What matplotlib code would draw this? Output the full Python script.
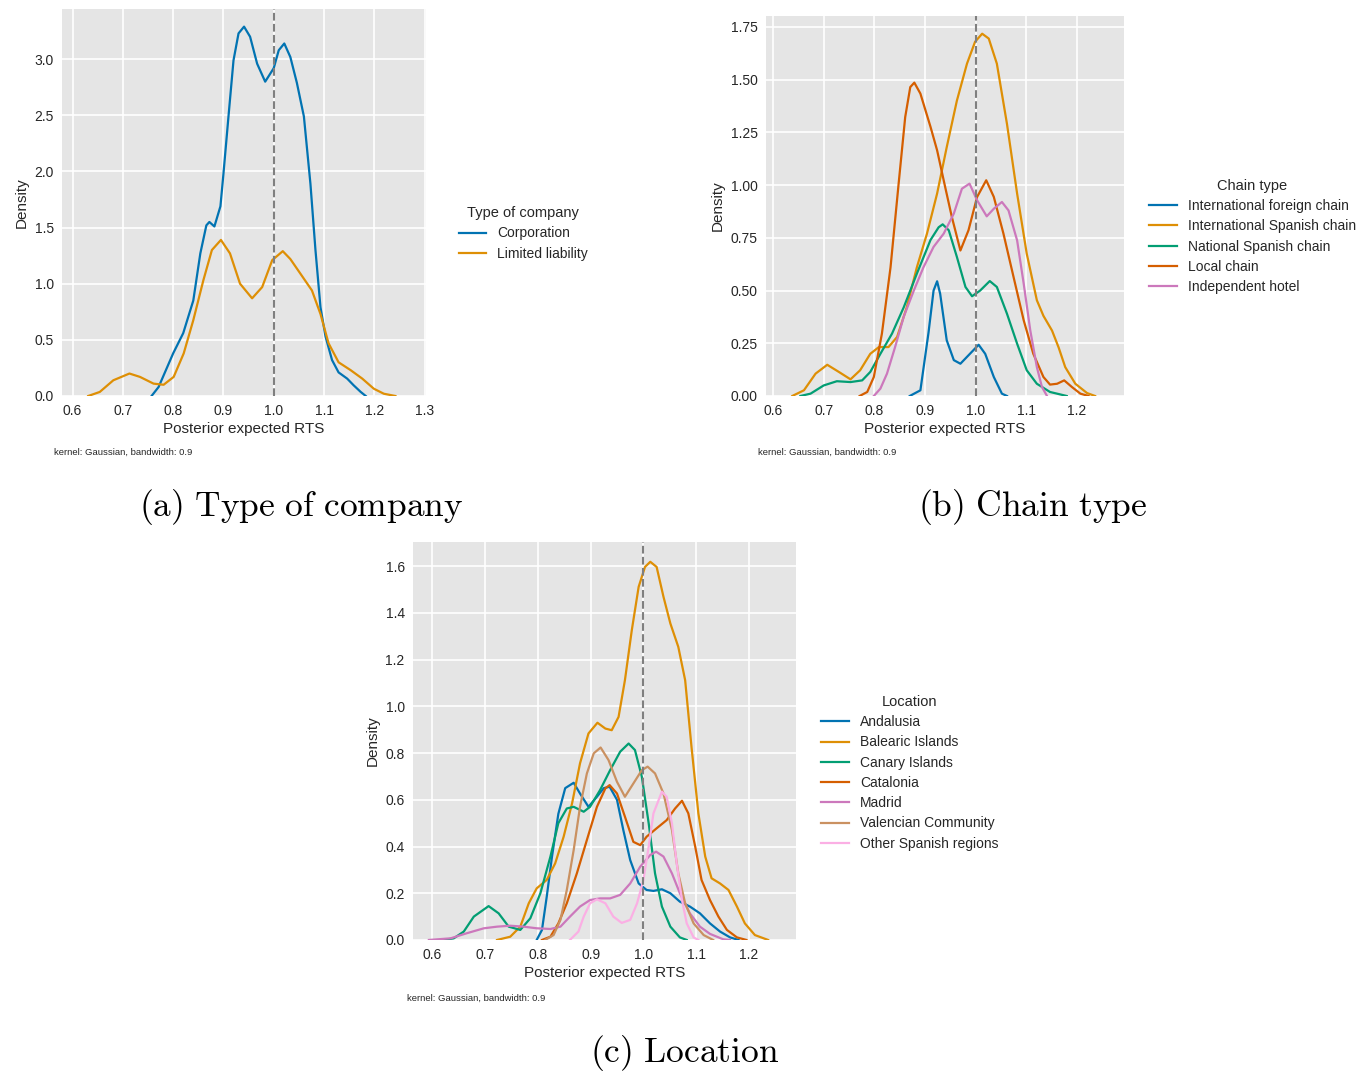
import matplotlib
matplotlib.use("Agg")
import matplotlib.pyplot as plt

# ---- data (x = posterior expected RTS, y = density) ----

# (a) Type of company
corp_x = [0.757, 0.771, 0.800, 0.820, 0.840, 0.854, 0.866, 0.872, 0.882, 0.894, 0.900, 0.910,
          0.920, 0.930, 0.941, 0.953, 0.967, 0.983, 1.000, 1.010, 1.021, 1.033, 1.046, 1.060,
          1.073, 1.083, 1.093, 1.103, 1.116, 1.129, 1.146, 1.159, 1.173, 1.183]
corp_y = [0.00, 0.08, 0.38, 0.56, 0.85, 1.27, 1.52, 1.55, 1.51, 1.69, 1.98, 2.49,
          2.99, 3.23, 3.29, 3.20, 2.96, 2.80, 2.92, 3.08, 3.14, 3.02, 2.79, 2.49,
          1.89, 1.30, 0.79, 0.53, 0.32, 0.21, 0.155, 0.095, 0.036, 0.00]
ltd_x = [0.631, 0.654, 0.681, 0.713, 0.734, 0.761, 0.781, 0.801, 0.821, 0.840, 0.860, 0.877,
         0.895, 0.913, 0.933, 0.957, 0.977, 0.997, 1.018, 1.033, 1.053, 1.076, 1.093, 1.109,
         1.129, 1.153, 1.176, 1.199, 1.219, 1.242]
ltd_y = [0.00, 0.036, 0.14, 0.20, 0.17, 0.11, 0.10, 0.17, 0.38, 0.675, 1.03, 1.30,
         1.39, 1.27, 1.00, 0.87, 0.97, 1.21, 1.29, 1.22, 1.09, 0.94, 0.73, 0.47,
         0.30, 0.23, 0.155, 0.065, 0.02, 0.00]
company_names = ["Corporation", "Limited liability"]

# (b) Chain type
intl_foreign_x = [0.870, 0.891, 0.907, 0.917, 0.924, 0.930, 0.943, 0.957, 0.970, 0.986, 1.006,
                  1.019, 1.036, 1.052, 1.062]
intl_foreign_y = [0.00, 0.027, 0.30, 0.50, 0.544, 0.485, 0.264, 0.17, 0.153, 0.193, 0.243,
                  0.20, 0.09, 0.011, 0.00]
intl_spanish_x = [0.638, 0.661, 0.684, 0.707, 0.730, 0.753, 0.772, 0.792, 0.809, 0.828, 0.845,
                  0.864, 0.884, 0.904, 0.924, 0.943, 0.963, 0.983, 0.999, 1.013, 1.026, 1.042,
                  1.062, 1.082, 1.101, 1.121, 1.134, 1.151, 1.164, 1.177, 1.197, 1.220, 1.236]
intl_spanish_y = [0.00, 0.027, 0.106, 0.148, 0.114, 0.079, 0.122, 0.20, 0.232, 0.232, 0.28,
                  0.42, 0.61, 0.77, 0.96, 1.18, 1.40, 1.576, 1.68, 1.718, 1.695, 1.576,
                  1.29, 0.96, 0.675, 0.454, 0.38, 0.31, 0.23, 0.137, 0.058, 0.014, 0.00]
national_x = [0.654, 0.674, 0.700, 0.726, 0.753, 0.776, 0.792, 0.812, 0.835, 0.858, 0.884,
              0.911, 0.927, 0.935, 0.947, 0.963, 0.980, 0.993, 1.009, 1.028, 1.042, 1.062,
              1.082, 1.101, 1.121, 1.147, 1.180]
national_y = [0.00, 0.011, 0.05, 0.07, 0.066, 0.074, 0.114, 0.20, 0.296, 0.42, 0.58,
              0.74, 0.80, 0.814, 0.786, 0.66, 0.517, 0.473, 0.50, 0.545, 0.517, 0.39,
              0.248, 0.122, 0.058, 0.019, 0.00]
local_x = [0.771, 0.786, 0.799, 0.815, 0.832, 0.848, 0.861, 0.871, 0.879, 0.891, 0.911,
           0.924, 0.940, 0.953, 0.970, 0.986, 1.003, 1.021, 1.036, 1.055, 1.075, 1.095,
           1.114, 1.134, 1.147, 1.161, 1.175, 1.190, 1.207, 1.223]
local_y = [0.00, 0.019, 0.09, 0.296, 0.61, 1.007, 1.323, 1.465, 1.486, 1.434, 1.276,
           1.165, 0.99, 0.85, 0.69, 0.786, 0.944, 1.023, 0.944, 0.77, 0.564, 0.359,
           0.20, 0.09, 0.054, 0.058, 0.074, 0.043, 0.011, 0.00]
indep_x = [0.799, 0.812, 0.825, 0.841, 0.858, 0.878, 0.897, 0.917, 0.937, 0.957, 0.973,
           0.988, 1.003, 1.022, 1.036, 1.052, 1.065, 1.082, 1.095, 1.108, 1.121, 1.131, 1.141]
indep_y = [0.00, 0.035, 0.106, 0.232, 0.375, 0.50, 0.61, 0.707, 0.77, 0.865, 0.983,
           1.007, 0.928, 0.852, 0.888, 0.92, 0.88, 0.738, 0.533, 0.311, 0.137, 0.043, 0.00]
chain_names = ["International foreign chain", "International Spanish chain",
               "National Spanish chain", "Local chain", "Independent hotel"]

# (c) Location
andalusia_x = [0.798, 0.808, 0.817, 0.827, 0.839, 0.852, 0.868, 0.880, 0.896, 0.912, 0.925,
               0.936, 0.950, 0.962, 0.975, 0.991, 1.006, 1.019, 1.035, 1.051, 1.069, 1.088,
               1.107, 1.126, 1.145, 1.164, 1.180]
andalusia_y = [0.00, 0.043, 0.185, 0.357, 0.54, 0.65, 0.673, 0.627, 0.57, 0.613, 0.65,
               0.656, 0.60, 0.47, 0.342, 0.242, 0.214, 0.21, 0.217, 0.20, 0.164, 0.143,
               0.114, 0.071, 0.036, 0.011, 0.00]
balearic_x = [0.723, 0.748, 0.767, 0.783, 0.798, 0.817, 0.833, 0.849, 0.865, 0.880, 0.896,
              0.913, 0.928, 0.940, 0.953, 0.965, 0.978, 0.991, 1.003, 1.013, 1.025, 1.038,
              1.051, 1.066, 1.079, 1.091, 1.104, 1.117, 1.129, 1.145, 1.161, 1.177, 1.192,
              1.211, 1.236]
balearic_y = [0.00, 0.014, 0.057, 0.157, 0.221, 0.257, 0.328, 0.442, 0.585, 0.756, 0.884,
              0.93, 0.905, 0.898, 0.955, 1.112, 1.326, 1.512, 1.597, 1.619, 1.597, 1.469,
              1.355, 1.255, 1.112, 0.827, 0.542, 0.357, 0.264, 0.242, 0.214, 0.143, 0.071,
              0.021, 0.00]
canary_x = [0.622, 0.641, 0.660, 0.679, 0.707, 0.726, 0.745, 0.767, 0.786, 0.805, 0.824,
            0.839, 0.855, 0.868, 0.887, 0.899, 0.918, 0.937, 0.956, 0.972, 0.984, 0.997,
            1.010, 1.022, 1.035, 1.051, 1.069, 1.082]
canary_y = [0.00, 0.007, 0.036, 0.10, 0.145, 0.114, 0.057, 0.043, 0.093, 0.20, 0.357,
            0.50, 0.563, 0.57, 0.549, 0.57, 0.642, 0.727, 0.806, 0.841, 0.813, 0.699,
            0.499, 0.285, 0.143, 0.057, 0.011, 0.00]
catalonia_x = [0.808, 0.824, 0.839, 0.855, 0.874, 0.893, 0.912, 0.928, 0.936, 0.950, 0.965,
               0.981, 0.994, 1.006, 1.025, 1.044, 1.060, 1.073, 1.085, 1.098, 1.110, 1.126,
               1.142, 1.158, 1.177, 1.195]
catalonia_y = [0.00, 0.014, 0.071, 0.157, 0.285, 0.428, 0.57, 0.649, 0.663, 0.627, 0.528,
               0.42, 0.406, 0.442, 0.478, 0.513, 0.563, 0.596, 0.542, 0.40, 0.257, 0.171,
               0.10, 0.043, 0.011, 0.00]
madrid_x = [0.594, 0.635, 0.666, 0.698, 0.723, 0.748, 0.773, 0.798, 0.824, 0.843, 0.861,
            0.880, 0.899, 0.918, 0.937, 0.956, 0.975, 0.994, 1.013, 1.024, 1.038, 1.054,
            1.069, 1.088, 1.107, 1.126, 1.151, 1.164]
madrid_y = [0.00, 0.007, 0.029, 0.05, 0.057, 0.061, 0.057, 0.05, 0.047, 0.057, 0.10,
            0.143, 0.171, 0.178, 0.178, 0.193, 0.242, 0.314, 0.364, 0.378, 0.357, 0.285,
            0.20, 0.114, 0.057, 0.026, 0.003, 0.00]
valencia_x = [0.814, 0.830, 0.843, 0.855, 0.868, 0.880, 0.893, 0.906, 0.919, 0.934, 0.950,
              0.965, 0.981, 0.997, 1.008, 1.022, 1.038, 1.054, 1.066, 1.079, 1.095, 1.114,
              1.132]
valencia_y = [0.00, 0.021, 0.086, 0.214, 0.385, 0.57, 0.713, 0.799, 0.824, 0.77, 0.677,
              0.613, 0.67, 0.727, 0.742, 0.713, 0.627, 0.471, 0.285, 0.157, 0.071, 0.021,
              0.00]
other_x = [0.861, 0.877, 0.887, 0.899, 0.912, 0.928, 0.943, 0.959, 0.975, 0.988, 1.000,
           1.010, 1.019, 1.035, 1.044, 1.054, 1.063, 1.073, 1.082, 1.095, 1.104]
other_y = [0.00, 0.036, 0.10, 0.157, 0.174, 0.157, 0.10, 0.073, 0.086, 0.157, 0.257,
           0.40, 0.542, 0.635, 0.613, 0.499, 0.328, 0.171, 0.071, 0.011, 0.00]
location_names = ["Andalusia", "Balearic Islands", "Canary Islands", "Catalonia",
                  "Madrid", "Valencian Community", "Other Spanish regions"]

palette = ["#0173B2", "#DE8F05", "#029E73", "#D55E00", "#CC78BC", "#CA9161", "#FBAFE4"]

plt.style.use("ggplot")
plt.rcParams["font.family"] = ["Liberation Sans", "DejaVu Sans"]
plt.rcParams["mathtext.fontset"] = "cm"

fig = plt.figure(figsize=(13.7, 10.74), dpi=100)

ax_a = fig.add_axes([0.0453, 0.6313, 0.2657, 0.3603])
ax_b = fig.add_axes([0.5591, 0.6313, 0.2613, 0.3538])
ax_c = fig.add_axes([0.3015, 0.1248, 0.2796, 0.3706])


def style_axis(ax, xlim, ylim, yticks, yfmt):
    ax.set_xlim(*xlim)
    ax.set_ylim(*ylim)
    ax.set_yticks(yticks)
    ax.set_yticklabels([yfmt.format(v) for v in yticks])
    ax.set_facecolor("#E5E5E5")
    ax.grid(True, color="white", linewidth=1.2)
    ax.set_axisbelow(True)
    for s in ax.spines.values():
        s.set_visible(False)
    ax.tick_params(length=0, labelsize=10, labelcolor="#262626", pad=6)
    ax.set_xlabel("Posterior expected RTS", fontsize=11, color="#262626", labelpad=3)
    ax.set_ylabel("Density", fontsize=11, color="#262626", labelpad=4)
    ax.axvline(1.0, color="#7f7f7f", linestyle="--", linewidth=1.5, zorder=5)


def add_legend(ax, title, x, y):
    leg = ax.legend(title=title, loc="center left", bbox_to_anchor=(x, y), frameon=False,
                    fontsize=10, title_fontsize=10.5, handlelength=2.0, labelspacing=0.45)
    for t in leg.get_texts():
        t.set_color("#262626")
    leg.get_title().set_color("#262626")


# (a)
for xs, ys, name, c in zip([corp_x, ltd_x], [corp_y, ltd_y], company_names, palette):
    ax_a.plot(xs, ys, color=c, linewidth=1.6, label=name)
style_axis(ax_a, (0.579, 1.303), (0, 3.447), [0, 0.5, 1.0, 1.5, 2.0, 2.5, 3.0], "{:.1f}")
ax_a.set_xticks([0.6, 0.7, 0.8, 0.9, 1.0, 1.1, 1.2, 1.3])
add_legend(ax_a, "Type of company", 1.055, 0.42)

# (b)
chain_x = [intl_foreign_x, intl_spanish_x, national_x, local_x, indep_x]
chain_y = [intl_foreign_y, intl_spanish_y, national_y, local_y, indep_y]
for xs, ys, name, c in zip(chain_x, chain_y, chain_names, palette):
    ax_b.plot(xs, ys, color=c, linewidth=1.6, label=name)
style_axis(ax_b, (0.586, 1.293), (0, 1.802), [0, 0.25, 0.5, 0.75, 1.0, 1.25, 1.5, 1.75], "{:.2f}")
ax_b.set_xticks([0.6, 0.7, 0.8, 0.9, 1.0, 1.1, 1.2])
add_legend(ax_b, "Chain type", 1.035, 0.42)

# (c)
loc_x = [andalusia_x, balearic_x, canary_x, catalonia_x, madrid_x, valencia_x, other_x]
loc_y = [andalusia_y, balearic_y, canary_y, catalonia_y, madrid_y, valencia_y, other_y]
for xs, ys, name, c in zip(loc_x, loc_y, location_names, palette):
    ax_c.plot(xs, ys, color=c, linewidth=1.6, label=name)
style_axis(ax_c, (0.564, 1.289), (0, 1.704), [0, 0.2, 0.4, 0.6, 0.8, 1.0, 1.2, 1.4, 1.6], "{:.1f}")
ax_c.set_xticks([0.6, 0.7, 0.8, 0.9, 1.0, 1.1, 1.2])
add_legend(ax_c, "Location", 1.032, 0.42)

# kernel notes
note = "kernel: Gaussian, bandwidth: 0.9"
fig.text(54 / 1370, 1 - 452 / 1074, note, fontsize=6.8, color="#262626", va="center")
fig.text(758 / 1370, 1 - 452 / 1074, note, fontsize=6.8, color="#262626", va="center")
fig.text(407 / 1370, 1 - 998 / 1074, note, fontsize=6.8, color="#262626", va="center")

# sub-captions
fig.text(301 / 1370, 1 - 507 / 1074, r"$\mathrm{(a)\ Type\ of\ company}$", fontsize=25.5,
         ha="center", va="center", color="black")
fig.text(1033 / 1370, 1 - 507 / 1074, r"$\mathrm{(b)\ Chain\ type}$", fontsize=25.5,
         ha="center", va="center", color="black")
fig.text(685 / 1370, 1 - 1053 / 1074, r"$\mathrm{(c)\ Location}$", fontsize=25.5,
         ha="center", va="center", color="black")

fig.savefig("out.png", dpi=100)
